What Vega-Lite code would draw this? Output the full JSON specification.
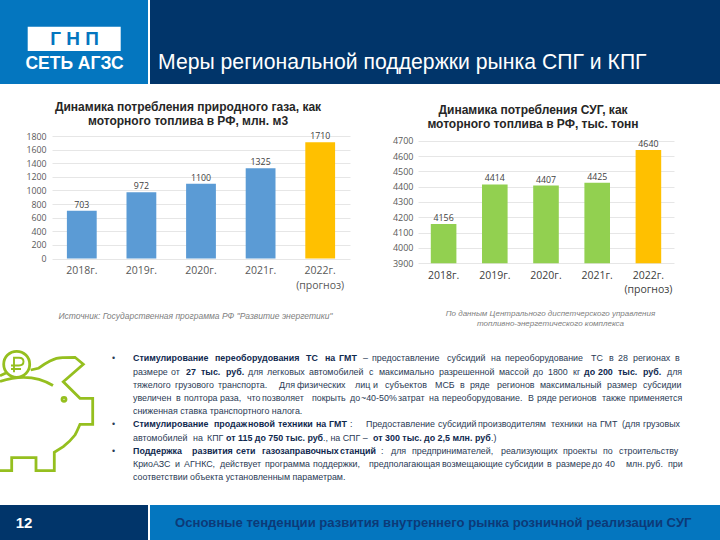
{"$schema":"https://vega.github.io/schema/vega-lite/v6.json","padding":0,"background":"#ffffff","spacing":0,"config":{"view":{"stroke":null},"font":"Liberation Sans"},
"datasets":{
"gas":[{"year":"2018г.","value":703,"kind":"факт"},{"year":"2019г.","value":972,"kind":"факт"},{"year":"2020г.","value":1100,"kind":"факт"},{"year":"2021г.","value":1325,"kind":"факт"},{"year":"2022г.\n(прогноз)","value":1710,"kind":"прогноз"}],
"lpg":[{"year":"2018г.","value":4156,"kind":"факт"},{"year":"2019г.","value":4414,"kind":"факт"},{"year":"2020г.","value":4407,"kind":"факт"},{"year":"2021г.","value":4425,"kind":"факт"},{"year":"2022г.\n(прогноз)","value":4640,"kind":"прогноз"}],
"words":[
{"n":1,"line":1,"t":"•","w":"r"},{"n":2,"line":1,"t":"Стимулирование","w":"b"},{"n":3,"line":1,"t":"переоборудования","w":"b"},{"n":4,"line":1,"t":"ТС","w":"b"},{"n":5,"line":1,"t":"на","w":"b"},{"n":6,"line":1,"t":"ГМТ","w":"b"},{"n":7,"line":1,"t":"–","w":"r"},{"n":8,"line":1,"t":"предоставление","w":"r"},{"n":9,"line":1,"t":"субсидий","w":"r"},{"n":10,"line":1,"t":"на","w":"r"},{"n":11,"line":1,"t":"переоборудование","w":"r"},{"n":12,"line":1,"t":"ТС","w":"r"},{"n":13,"line":1,"t":"в","w":"r"},{"n":14,"line":1,"t":"28","w":"r"},{"n":15,"line":1,"t":"регионах","w":"r"},{"n":16,"line":1,"t":"в","w":"r"},
{"n":17,"line":2,"t":"размере","w":"r"},{"n":18,"line":2,"t":"от","w":"r"},{"n":19,"line":2,"t":"27","w":"b"},{"n":20,"line":2,"t":"тыс.","w":"b"},{"n":21,"line":2,"t":"руб.","w":"b"},{"n":22,"line":2,"t":"для","w":"r"},{"n":23,"line":2,"t":"легковых","w":"r"},{"n":24,"line":2,"t":"автомобилей","w":"r"},{"n":25,"line":2,"t":"с","w":"r"},{"n":26,"line":2,"t":"максимально","w":"r"},{"n":27,"line":2,"t":"разрешенной","w":"r"},{"n":28,"line":2,"t":"массой","w":"r"},{"n":29,"line":2,"t":"до","w":"r"},{"n":30,"line":2,"t":"1800","w":"r"},{"n":31,"line":2,"t":"кг","w":"r"},{"n":32,"line":2,"t":"до","w":"b"},{"n":33,"line":2,"t":"200","w":"b"},{"n":34,"line":2,"t":"тыс.","w":"b"},{"n":35,"line":2,"t":"руб.","w":"b"},{"n":36,"line":2,"t":"для","w":"r"},
{"n":37,"line":3,"t":"тяжелого","w":"r"},{"n":38,"line":3,"t":"грузового","w":"r"},{"n":39,"line":3,"t":"транспорта.","w":"r"},{"n":40,"line":3,"t":"Для","w":"r"},{"n":41,"line":3,"t":"физических","w":"r"},{"n":42,"line":3,"t":"лиц","w":"r"},{"n":43,"line":3,"t":"и","w":"r"},{"n":44,"line":3,"t":"субъектов","w":"r"},{"n":45,"line":3,"t":"МСБ","w":"r"},{"n":46,"line":3,"t":"в","w":"r"},{"n":47,"line":3,"t":"ряде","w":"r"},{"n":48,"line":3,"t":"регионов","w":"r"},{"n":49,"line":3,"t":"максимальный","w":"r"},{"n":50,"line":3,"t":"размер","w":"r"},{"n":51,"line":3,"t":"субсидии","w":"r"},
{"n":52,"line":4,"t":"увеличен","w":"r"},{"n":53,"line":4,"t":"в","w":"r"},{"n":54,"line":4,"t":"полтора","w":"r"},{"n":55,"line":4,"t":"раза,","w":"r"},{"n":56,"line":4,"t":"что","w":"r"},{"n":57,"line":4,"t":"позволяет","w":"r"},{"n":58,"line":4,"t":"покрыть","w":"r"},{"n":59,"line":4,"t":"до","w":"r"},{"n":60,"line":4,"t":"~40-50%","w":"r"},{"n":61,"line":4,"t":"затрат","w":"r"},{"n":62,"line":4,"t":"на","w":"r"},{"n":63,"line":4,"t":"переоборудование.","w":"r"},{"n":64,"line":4,"t":"В","w":"r"},{"n":65,"line":4,"t":"ряде","w":"r"},{"n":66,"line":4,"t":"регионов","w":"r"},{"n":67,"line":4,"t":"также","w":"r"},{"n":68,"line":4,"t":"применяется","w":"r"},
{"n":69,"line":5,"t":"сниженная ставка транспортного налога.","w":"r"},
{"n":70,"line":6,"t":"•","w":"r"},{"n":71,"line":6,"t":"Стимулирование","w":"b"},{"n":72,"line":6,"t":"продаж","w":"b"},{"n":73,"line":6,"t":"новой","w":"b"},{"n":74,"line":6,"t":"техники","w":"b"},{"n":75,"line":6,"t":"на","w":"b"},{"n":76,"line":6,"t":"ГМТ","w":"b"},{"n":77,"line":6,"t":":","w":"r"},{"n":78,"line":6,"t":"Предоставление","w":"r"},{"n":79,"line":6,"t":"субсидий","w":"r"},{"n":80,"line":6,"t":"производителям","w":"r"},{"n":81,"line":6,"t":"техники","w":"r"},{"n":82,"line":6,"t":"на","w":"r"},{"n":83,"line":6,"t":"ГМТ","w":"r"},{"n":84,"line":6,"t":"(для","w":"r"},{"n":85,"line":6,"t":"грузовых","w":"r"},
{"n":86,"line":7,"t":"автомобилей","w":"r"},{"n":87,"line":7,"t":"на","w":"r"},{"n":88,"line":7,"t":"КПГ","w":"r"},{"n":89,"line":7,"t":"от 115 до 750 тыс. руб","w":"b"},{"n":90,"line":7,"t":"., на СПГ –","w":"r"},{"n":91,"line":7,"t":"от 300 тыс. до 2,5 млн. руб","w":"b"},{"n":92,"line":7,"t":".)","w":"r"},
{"n":93,"line":8,"t":"•","w":"r"},{"n":94,"line":8,"t":"Поддержка","w":"b"},{"n":95,"line":8,"t":"развития","w":"b"},{"n":96,"line":8,"t":"сети","w":"b"},{"n":97,"line":8,"t":"газозаправочных","w":"b"},{"n":98,"line":8,"t":"станций","w":"b"},{"n":99,"line":8,"t":":","w":"r"},{"n":100,"line":8,"t":"для","w":"r"},{"n":101,"line":8,"t":"предпринимателей,","w":"r"},{"n":102,"line":8,"t":"реализующих","w":"r"},{"n":103,"line":8,"t":"проекты","w":"r"},{"n":104,"line":8,"t":"по","w":"r"},{"n":105,"line":8,"t":"строительству","w":"r"},
{"n":106,"line":9,"t":"КриоАЗС","w":"r"},{"n":107,"line":9,"t":"и","w":"r"},{"n":108,"line":9,"t":"АГНКС,","w":"r"},{"n":109,"line":9,"t":"действует","w":"r"},{"n":110,"line":9,"t":"программа","w":"r"},{"n":111,"line":9,"t":"поддержки,","w":"r"},{"n":112,"line":9,"t":"предполагающая","w":"r"},{"n":113,"line":9,"t":"возмещающие","w":"r"},{"n":114,"line":9,"t":"субсидии","w":"r"},{"n":115,"line":9,"t":"в","w":"r"},{"n":116,"line":9,"t":"размере","w":"r"},{"n":117,"line":9,"t":"до","w":"r"},{"n":118,"line":9,"t":"40","w":"r"},{"n":119,"line":9,"t":"млн.","w":"r"},{"n":120,"line":9,"t":"руб.","w":"r"},{"n":121,"line":9,"t":"при","w":"r"},
{"n":122,"line":10,"t":"соответствии объекта установленным параметрам.","w":"r"}
]},
"vconcat":[
{"hconcat":[
{"width":148,"height":84,"view":{"fill":"#0476bf","stroke":null},"data":{"values":[{"t":"логотип"}]},"layer":[
{"mark":{"type":"point","shape":"M-46.3 -15.3H46.7V9H-46.3Z","size":4,"filled":true,"fill":"#ffffff","opacity":1,"strokeWidth":0}},
{"mark":{"type":"text","text":"Г     Н     П","font":"Liberation Sans","fontWeight":"bold","fontSize":19,"fill":"#0476bf","dy":-3,"dx":0.5}},
{"mark":{"type":"text","text":"СЕТЬ АГЗС","font":"Liberation Sans","fontWeight":"bold","fontSize":17.5,"fill":"#ffffff","dy":22,"dx":0.5}}
]},
{"width":2,"height":84,"data":{"values":[]},"mark":"text","encoding":{}},
{"width":570,"height":84,"view":{"fill":"#01356a","stroke":null},"data":{"values":[{"t":"Меры региональной поддержки рынка СПГ и КПГ"}]},"mark":{"type":"text","align":"left","font":"Liberation Sans","fontSize":21.2,"fill":"#ffffff","dx":-277,"dy":21},"encoding":{"text":{"field":"t"}}}
],"spacing":0,"bounds":"flush"},
{"width":720,"height":16,"data":{"values":[]},"mark":"text","encoding":{}},
{"hconcat":[
{"width":52,"height":100,"data":{"values":[]},"mark":"text","encoding":{}},
{"width":298,"height":122.5,"data":{"name":"gas"},
"title":{"text":["Динамика потребления природного газа, как","моторного топлива в РФ, млн. м3"],"font":"Liberation Sans","fontSize":12,"fontWeight":"bold","color":"#262626","lineHeight":14,"anchor":"middle","frame":"group","dx":-13,"offset":4.3},
"encoding":{"x":{"field":"year","type":"nominal","sort":null,"scale":{"paddingInner":0.5,"paddingOuter":0.25},"axis":{"title":"Источник: Государственная программа РФ \"Развитие энергетики\"","titleFont":"Liberation Sans","titleFontStyle":"italic","titleFontWeight":"normal","titleFontSize":8.5,"titleColor":"#808080","titleX":143,"titleY":56.5,"titleBaseline":"middle","labelAngle":0,"labelFont":"Open Sans","labelFontSize":10.5,"labelColor":"#595959","labelPadding":7,"labelLineHeight":14.5,"labelExpr":"split(datum.label,'\\n')","domain":false,"ticks":false,"grid":false}},
"y":{"field":"value","type":"quantitative","scale":{"domain":[0,1800],"nice":false},"axis":{"title":null,"values":[0,200,400,600,800,1000,1200,1400,1600,1800],"format":"d","labelFont":"Open Sans","labelFontSize":8.8,"labelColor":"#595959","labelPadding":6,"domain":false,"ticks":false,"grid":true,"gridColor":"#e6e6e6"}}},
"layer":[
{"mark":{"type":"bar"},"encoding":{"color":{"field":"kind","type":"nominal","legend":null,"scale":{"domain":["факт","прогноз"],"range":["#5b9bd5","#ffc000"]}}}},
{"mark":{"type":"text","baseline":"bottom","dy":-1,"font":"Open Sans","fontSize":8.8,"fill":"#404040"},"encoding":{"text":{"field":"value","type":"quantitative","format":"d"}}}
]},
{"width":68,"height":100,"data":{"values":[]},"mark":"text","encoding":{}},
{"width":256,"height":127.2,"data":{"name":"lpg"},
"title":{"text":["Динамика потребления СУГ, как","моторного топлива в РФ, тыс. тонн"],"font":"Liberation Sans","fontSize":12,"fontWeight":"bold","color":"#262626","lineHeight":14,"anchor":"middle","frame":"group","dx":-13,"offset":5.5},
"encoding":{"x":{"field":"year","type":"nominal","sort":null,"scale":{"paddingInner":0.5,"paddingOuter":0.25},"axis":{"title":["По данным Центрального диспетчерского управления","топливно-энергетического комплекса"],"titleFont":"Liberation Sans","titleFontStyle":"italic","titleFontWeight":"normal","titleFontSize":8,"titleColor":"#808080","titleX":132,"titleY":45.8,"titleBaseline":"top","titleLineHeight":10,"labelAngle":0,"labelFont":"Open Sans","labelFontSize":10.5,"labelColor":"#404040","labelPadding":7,"labelLineHeight":14.5,"labelExpr":"split(datum.label,'\\n')","domain":false,"ticks":false,"grid":false}},
"y":{"field":"value","type":"quantitative","scale":{"domain":[3900,4700],"nice":false,"zero":false,"clamp":true,"range":[127.2,4.7]},"axis":{"title":null,"values":[3900,4000,4100,4200,4300,4400,4500,4600,4700],"format":"d","labelFont":"Open Sans","labelFontSize":9,"labelColor":"#595959","labelPadding":5,"domain":false,"ticks":false,"grid":true,"gridColor":"#e6e6e6"}}},
"layer":[
{"mark":{"type":"bar"},"encoding":{"color":{"field":"kind","type":"nominal","legend":null,"scale":{"domain":["факт","прогноз"],"range":["#92d050","#ffc000"]}}}},
{"mark":{"type":"text","baseline":"bottom","dy":-1,"font":"Open Sans","fontSize":8.8,"fill":"#404040"},"encoding":{"text":{"field":"value","type":"quantitative","format":"d"}}}
]}
],"spacing":0,"bounds":"flush","resolve":{"scale":{"color":"independent"}}},
{"width":720,"height":12.5,"data":{"values":[]},"mark":"text","encoding":{}},
{"width":720,"height":165,"layer":[
{"data":{"values":[{"icon":"копилка"}]},"mark":{"type":"point","clip":true,"shape":"M-360 -41Q-330 -51 -307 -37M-329.3 -52.5L-321.7 -54.2Q-315 -59 -310 -61.5Q-303 -65 -296.7 -64.8L-285 -65.2L-276.7 -58.2L-296.7 -40.8L-280 -24.2H-267.3V1.8H-280Q-283 9 -285 12.5Q-290 19 -296.7 24.2L-305.7 29.8V48.2H-324V35.2H-348.3V48.2H-360M-356.3 -58.2A13 13 0 1 1 -330.3 -58.2A13 13 0 1 1 -356.3 -58.2M-360 -46.8L-354 -49.5M-298 -23.2A2 2 0 1 1 -294 -23.2A2 2 0 1 1 -298 -23.2","size":4,"filled":false,"stroke":"#95bf1f","strokeWidth":2.8,"opacity":1}},
{"data":{"values":[{"icon":"рубль"}]},"mark":{"type":"point","clip":true,"shape":"M-346 -50.2V-64.8H-341Q-336.5 -64.8 -336.5 -60.9Q-336.5 -57 -341 -57H-349M-349 -53.5H-339","size":4,"filled":false,"stroke":"#95bf1f","strokeWidth":1.9,"opacity":1}},
{"data":{"name":"words"},"transform":[{"filter":"datum.w=='r'"}],"mark":{"type":"text","align":"left","baseline":"middle","font":"Liberation Sans","fontSize":8.9,"fill":"#2a3a55"},"encoding":{"x":{"field":"n","type":"quantitative","axis":null,"scale":{"nice":false,"zero":false,"domain":[1,2,3,4,5,6,7,8,9,10,11,12,13,14,15,16,17,18,19,20,21,22,23,24,25,26,27,28,29,30,31,32,33,34,35,36,37,38,39,40,41,42,43,44,45,46,47,48,49,50,51,52,53,54,55,56,57,58,59,60,61,62,63,64,65,66,67,68,69,70,71,72,73,74,75,76,77,78,79,80,81,82,83,84,85,86,87,88,89,90,91,92,93,94,95,96,97,98,99,100,101,102,103,104,105,106,107,108,109,110,111,112,113,114,115,116,117,118,119,120,121,122],"range":[112,133,215,306,325,339,363,372,447,491,505,591,609,618,633,675,133,171,186,201,226,248,267,309,369,379,439,499,533,548,573,584,598,618,643,667,133,175,218,279,297,355,373,385,435,460,470,497,540,607,643,133,176,184,220,247,262,312,350,361,398,429,442,528,537,559,602,629,133,112,133,214,248,278,316,329,350,366,438,478,551,587,600,622,643,133,193,207,226,323,373,491,112,133,192,236,262,340,381,391,412,501,563,603,619,133,175,184,220,265,313,369,442,505,547,556,592,605,626,646,668,133]}},"y":{"field":"line","type":"quantitative","axis":null,"scale":{"nice":false,"zero":false,"domain":[1,10],"range":[18.3,137.3]}},"text":{"field":"t"}}},
{"data":{"name":"words"},"transform":[{"filter":"datum.w=='b'"}],"mark":{"type":"text","align":"left","baseline":"middle","font":"Liberation Sans","fontWeight":"bold","fontSize":8.9,"fill":"#10294f"},"encoding":{"x":{"field":"n","type":"quantitative","axis":null},"y":{"field":"line","type":"quantitative","axis":null},"text":{"field":"t"}}}
]},
{"hconcat":[
{"width":148,"height":35,"view":{"fill":"#01356a","stroke":null},"data":{"values":[{"t":"12"}]},"mark":{"type":"text","font":"Liberation Sans","fontWeight":"bold","fontSize":15,"fill":"#ffffff","dx":-50,"dy":0.5},"encoding":{"text":{"field":"t"}}},
{"width":2,"height":35,"data":{"values":[]},"mark":"text","encoding":{}},
{"width":570,"height":35,"view":{"fill":"#0476bf","stroke":null},"data":{"values":[{"t":"Основные тенденции развития внутреннего рынка розничной реализации СУГ"}]},"mark":{"type":"text","align":"left","font":"Liberation Sans","fontWeight":"bold","fontSize":13.1,"fill":"#0c3a78","dx":-260,"dy":0.5},"encoding":{"text":{"field":"t"}}}
],"spacing":0,"bounds":"flush"}
]}
